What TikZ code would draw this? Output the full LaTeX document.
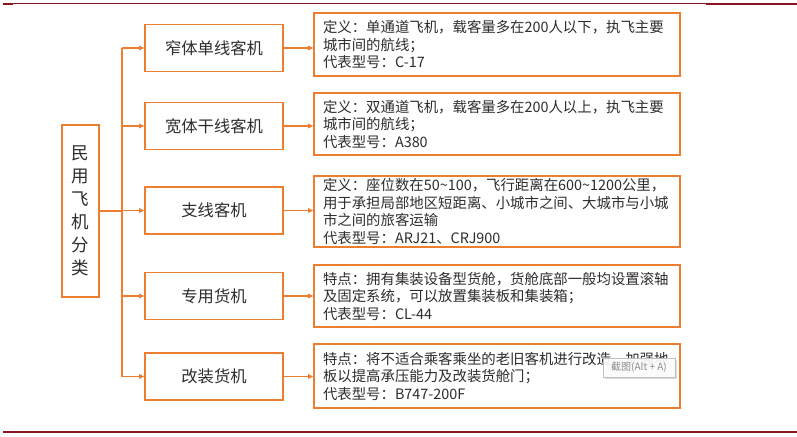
\documentclass[tikz,border=0pt]{standalone}
\usepackage{fontspec}
\setmainfont{Noto Sans CJK SC}
\usetikzlibrary{arrows.meta,shadows}
\definecolor{org}{RGB}{237,125,49}
\definecolor{dred}{RGB}{135,22,32}
\definecolor{txt}{RGB}{45,45,45}
\tikzset{
  obox/.style={draw=org, line width=1.6pt, fill=white, text=txt, inner sep=0pt},
  mainbox/.style={obox, minimum width=37pt, minimum height=172pt, align=center, font=\fontsize{17.5}{23}\selectfont},
  midbox/.style={obox, minimum width=138pt, minimum height=47pt, font=\fontsize{16.3}{19}\selectfont},
  descbox/.style={obox, text width=348pt, inner xsep=9pt, inner ysep=0pt, align=left, font=\fontsize{14.4}{17.5}\selectfont},
  conn/.style={draw=org, line width=1.4pt},
  arr/.style={conn, -{Triangle[length=5pt,width=4.5pt]}},
  rule/.style={draw=dred}
}
\begin{document}
\begin{tikzpicture}[x=1pt,y=-1pt]
\useasboundingbox (0,0) rectangle (797,436);
% header / footer rules
\draw[rule, line width=1pt] (3,3.3) -- (706,3.3);
\draw[rule, line width=2.6pt] (706,4) -- (797,4);
\draw[rule, line width=2.6pt] (3,4) -- (13,4);
\draw[rule, line width=2.2pt] (3,432) -- (797,432);

% main box
\node[mainbox] (main) at (80.5,211) {民\\用\\飞\\机\\分\\类};

% middle boxes
\node[midbox] (m1) at (214,48) {窄体单线客机};
\node[midbox] (m2) at (214,126) {宽体干线客机};
\node[midbox] (m3) at (214,210.5) {支线客机};
\node[midbox] (m4) at (214,296) {专用货机};
\node[midbox] (m5) at (214,376.5) {改装货机};

% description boxes
\node[descbox, minimum height=63pt] (r1) at (497,44.5) {定义：单通道飞机，载客量多在200人以下，执飞主要\\城市间的航线；\\代表型号：C-17};
\node[descbox, minimum height=62pt] (r2) at (497,124) {定义：双通道飞机，载客量多在200人以上，执飞主要\\城市间的航线；\\代表型号：A380};
\node[descbox, minimum height=71pt] (r3) at (497,211.5) {定义：座位数在50\textasciitilde100，飞行距离在600\textasciitilde1200公里，\\用于承担局部地区短距离、小城市之间、大城市与小城\\市之间的旅客运输\\代表型号：ARJ21、CRJ900};
\node[descbox, minimum height=62pt] (r4) at (497,296) {特点：拥有集装设备型货舱，货舱底部一般均设置滚轴\\及固定系统，可以放置集装板和集装箱；\\代表型号：CL-44};
\node[descbox, minimum height=64pt] (r5) at (497,376) {特点：将不适合乘客乘坐的老旧客机进行改造，加强地\\板以提高承压能力及改装货舱门；\\代表型号：B747-200F};

% trunk
\coordinate (jn) at (122,211);
\draw[conn] (main.east |- jn) -- (jn);
\draw[conn] (m1.west -| jn) -- (m5.west -| jn);
\foreach \i in {1,...,5}{
  \draw[arr] (m\i.west -| jn) -- (m\i.west);
  \draw[arr] (m\i.east) -- (m\i.east -| r\i.west);
}

% screenshot tooltip
\node[draw=black!25, fill=white, fill opacity=0.9, text opacity=1, text=black!45,
      font=\fontsize{10}{11}\selectfont, minimum width=72pt, minimum height=19pt, inner sep=0pt,
      drop shadow={opacity=0.25, shadow xshift=1.5pt, shadow yshift=-1.5pt}] (tip) at (639,367.5) {截图(Alt + A)};
\end{tikzpicture}
\end{document}
